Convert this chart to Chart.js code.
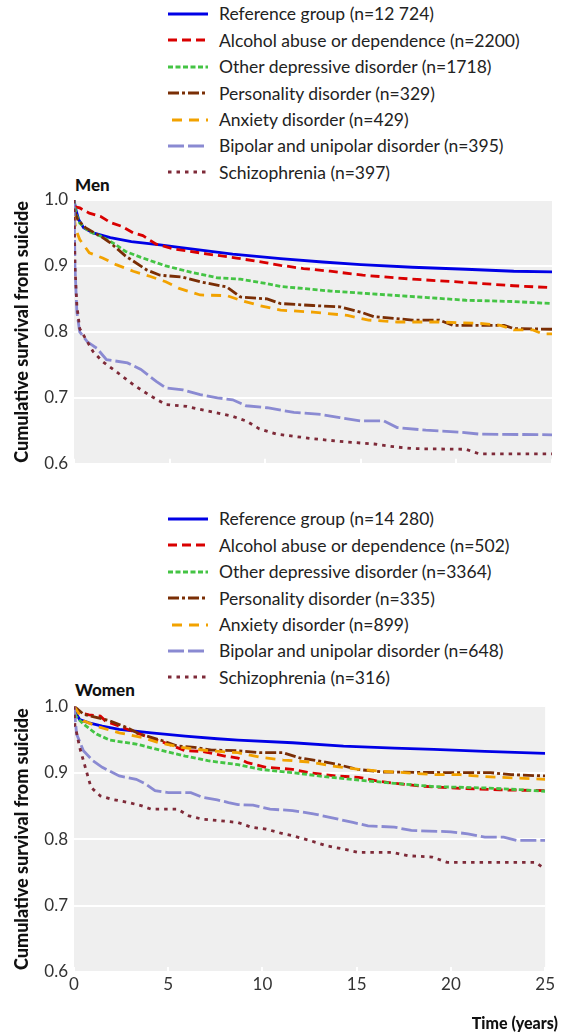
<!DOCTYPE html>
<html>
<head>
<meta charset="utf-8">
<script src="https://cdn.jsdelivr.net/npm/chart.js@4.4.1/dist/chart.umd.min.js"></script>
<style>
  html, body { margin: 0; padding: 0; background: #fff; }
  body { width: 562px; height: 1035px; position: relative; overflow: hidden; font-family: Lato, "Open Sans", sans-serif; color: #222; }
  .legend { position: absolute; left: 168px; }
  .row { height: 26.4px; display: flex; align-items: center; font-size: 17.5px; white-space: nowrap; }
  .row svg { width: 40px; height: 10px; margin-right: 11px; flex: none; }
  .panel-title { position: absolute; left: 75px; font-weight: 900; font-size: 17px; color: #111; line-height: 20px; }
  .axis-title { position: absolute; right: 4px; top: 1013px; font-weight: 900; font-size: 16px; color: #111; line-height: 20px; }
  canvas { position: absolute; left: 0; }
</style>
</head>
<body>
<div class="legend" id="legMen" style="top:0.8px"></div>
<div class="panel-title" style="top:175px">Men</div>
<canvas id="men" width="562" height="300" style="top:180px"></canvas>
<div class="legend" id="legWomen" style="top:505.8px"></div>
<div class="panel-title" style="top:680px">Women</div>
<canvas id="women" width="562" height="345" style="top:690px"></canvas>
<div class="axis-title" id="xTitle"></div>
<script>
// ---- data ----
const groupNames = ["Reference group", "Alcohol abuse or dependence", "Other depressive disorder",
  "Personality disorder", "Anxiety disorder", "Bipolar and unipolar disorder", "Schizophrenia"];
const menCounts = ["12 724", "2200", "1718", "329", "429", "395", "397"];
const womenCounts = ["14 280", "502", "3364", "335", "899", "648", "316"];
const xTicks = [0, 5, 10, 15, 20, 25];
const yTicks = [0.6, 0.7, 0.8, 0.9, 1.0];
const xAxisTitle = "Time (years)";
const yAxisTitle = "Cumulative survival from suicide";

// [time (years), cumulative survival]
const menReference = [[0,1.0],[0.1,0.985],[0.25,0.97],[0.5,0.958],[1,0.95],[1.9,0.943],[3,0.937],[4.5,0.932],[5.5,0.928],[8.3,0.918],[10.8,0.911],[13,0.906],[15,0.902],[17.7,0.898],[20.5,0.895],[23,0.892],[25,0.891]];
const menAlcohol = [[0,0.99],[0.3,0.988],[0.8,0.98],[1.4,0.975],[1.9,0.966],[2.5,0.96],[3.1,0.95],[3.6,0.946],[4.3,0.933],[5.2,0.926],[7,0.918],[8.5,0.912],[10,0.905],[10.8,0.901],[12,0.896],[13.4,0.892],[15.1,0.886],[17.7,0.88],[20.5,0.875],[23,0.87],[25,0.867]];
const menOther = [[0,1.0],[0.1,0.98],[0.3,0.965],[0.8,0.952],[1.5,0.944],[2.2,0.932],[2.7,0.922],[3.5,0.913],[4.8,0.9],[6.2,0.89],[7.5,0.882],[8.7,0.88],[10.1,0.873],[10.8,0.869],[13.4,0.862],[15.9,0.857],[18.5,0.852],[20.5,0.848],[23,0.846],[25,0.843]];
const menPersonality = [[0,0.985],[0.2,0.97],[0.6,0.958],[1.5,0.943],[1.9,0.935],[2.7,0.915],[3.8,0.894],[4.5,0.886],[5.7,0.883],[6.6,0.876],[8,0.868],[8.7,0.853],[10.1,0.85],[10.8,0.843],[12.5,0.84],[13.9,0.838],[15,0.83],[15.7,0.823],[17.7,0.818],[19.1,0.818],[19.8,0.81],[22.5,0.81],[23,0.805],[25,0.804]];
const menAnxiety = [[0,0.975],[0.1,0.955],[0.3,0.94],[0.8,0.92],[1.5,0.912],[2.2,0.902],[3.1,0.892],[4,0.884],[4.8,0.876],[5.5,0.866],[6.6,0.856],[8,0.855],[8.7,0.848],[9.7,0.84],[10.8,0.833],[12.5,0.83],[14.3,0.825],[15.4,0.818],[16.9,0.815],[19.1,0.815],[21.2,0.813],[22.3,0.81],[23,0.803],[24,0.803],[24.5,0.797],[25,0.797]];
const menBipolar = [[0,1.0],[0.05,0.9],[0.15,0.83],[0.3,0.8],[0.7,0.785],[1.2,0.775],[1.7,0.758],[2.8,0.753],[3.5,0.743],[4.3,0.725],[4.8,0.715],[5.7,0.712],[6.6,0.705],[7.5,0.7],[8.3,0.697],[9,0.688],[10.1,0.685],[11.5,0.678],[12.9,0.675],[13.9,0.67],[15,0.665],[16.2,0.665],[16.9,0.655],[18.4,0.651],[20.2,0.648],[21.2,0.645],[25,0.644]];
const menSchizophrenia = [[0,1.0],[0.05,0.9],[0.15,0.84],[0.3,0.805],[1,0.77],[1.5,0.755],[2.2,0.74],[3.1,0.72],[4,0.703],[4.8,0.69],[5.9,0.687],[7,0.68],[8.3,0.672],[9,0.665],[9.7,0.653],[10.6,0.645],[12.5,0.638],[14.3,0.633],[15.7,0.63],[16.7,0.626],[17.7,0.623],[20.5,0.622],[21.2,0.615],[25,0.615]];

const womenReference = [[0,1.0],[0.1,0.99],[0.3,0.98],[0.8,0.975],[1.5,0.97],[2.4,0.965],[4.1,0.96],[5.9,0.955],[7.6,0.951],[8.7,0.949],[11.6,0.945],[14.3,0.94],[17,0.937],[19.1,0.935],[21.8,0.932],[25,0.929]];
const womenAlcohol = [[0,1.0],[0.3,0.99],[0.8,0.987],[1.4,0.985],[1.7,0.977],[2.4,0.97],[3.3,0.96],[4.3,0.95],[5,0.943],[5.9,0.933],[6.8,0.932],[8,0.925],[8.7,0.922],[9.2,0.915],[10.2,0.908],[11.6,0.905],[12.5,0.9],[13.9,0.895],[15.1,0.893],[16,0.888],[17,0.884],[18.3,0.88],[20,0.877],[22.6,0.874],[25,0.873]];
const womenOther = [[0,1.0],[0.1,0.985],[0.5,0.973],[1.2,0.958],[1.9,0.949],[3.3,0.943],[4.7,0.933],[5.9,0.925],[7.1,0.918],[8.7,0.912],[9.9,0.905],[11.6,0.9],[13.3,0.894],[15.4,0.888],[17,0.884],[19.1,0.879],[21.8,0.877],[23.9,0.874],[25,0.872]];
const womenPersonality = [[0,1.0],[0.5,0.988],[1.9,0.978],[2.8,0.968],[3.5,0.958],[4.7,0.948],[5.5,0.94],[6.4,0.938],[7.3,0.934],[8.7,0.933],[9.9,0.93],[11.1,0.93],[12,0.922],[12.9,0.918],[13.9,0.913],[15,0.905],[16.4,0.901],[20,0.9],[22.1,0.9],[23.2,0.897],[25,0.895]];
const womenAnxiety = [[0,1.0],[0.5,0.978],[1.4,0.968],[2.4,0.96],[3.6,0.953],[4.5,0.945],[5.7,0.938],[7.1,0.933],[8.7,0.93],[9.9,0.923],[11.1,0.919],[12.5,0.916],[13.7,0.91],[15.1,0.905],[16.4,0.902],[19.1,0.897],[20.5,0.897],[21.8,0.894],[23.5,0.892],[25,0.89]];
const womenBipolar = [[0,1.0],[0.14,0.958],[0.5,0.933],[1,0.918],[1.5,0.908],[2.4,0.895],[3.3,0.89],[3.8,0.883],[4.3,0.873],[5,0.87],[6.2,0.87],[6.8,0.863],[7.6,0.859],[8.2,0.855],[8.7,0.852],[9.5,0.851],[10.4,0.845],[11.6,0.843],[12.7,0.838],[13.7,0.832],[14.8,0.825],[15.6,0.82],[17,0.818],[17.9,0.813],[20,0.811],[20.9,0.808],[21.8,0.803],[22.8,0.803],[23.5,0.798],[25,0.798]];
const womenSchizophrenia = [[0,1.0],[0.05,0.97],[0.14,0.96],[0.3,0.938],[0.6,0.908],[0.9,0.878],[1.4,0.865],[2,0.86],[2.9,0.855],[3.6,0.85],[4.1,0.845],[5.5,0.845],[6.1,0.835],[6.8,0.83],[7.6,0.828],[8.7,0.825],[9.4,0.818],[10.2,0.815],[11.1,0.808],[11.6,0.805],[12.5,0.798],[13.4,0.79],[14.3,0.785],[15.1,0.78],[16.9,0.78],[17.7,0.775],[19,0.773],[19.8,0.765],[24.5,0.765],[25,0.755]];

// ---- styles ----
const styles = [
  { color: "#0000e6", dash: [] },
  { color: "#d90000", dash: [9, 5] },
  { color: "#44c444", dash: [5, 2.5] },
  { color: "#7a2e05", dash: [11, 3, 3, 3] },
  { color: "#f2a200", dash: [10, 7] },
  { color: "#8a8ad2", dash: [16, 4] },
  { color: "#7e2a38", dash: [3.5, 5] }
];

document.getElementById("xTitle").textContent = xAxisTitle;

function buildLegend(id, counts) {
  const el = document.getElementById(id);
  groupNames.forEach((name, i) => {
    const s = styles[i];
    const row = document.createElement("div");
    row.className = "row";
    const offset = i === 4 ? -4 : 0;
    row.innerHTML = '<svg viewBox="0 0 40 10"><line x1="0" y1="5" x2="40" y2="5" stroke="' + s.color +
      '" stroke-width="3" stroke-dasharray="' + (s.dash.length ? s.dash.join(" ") : "none") +
      '" stroke-dashoffset="' + offset + '"/></svg><span>' + name + " (n=" + counts[i] + ")</span>";
    el.appendChild(row);
  });
}
buildLegend("legMen", menCounts);
buildLegend("legWomen", womenCounts);

const panelBg = {
  id: "panelBg",
  beforeDraw(chart) {
    const { ctx, chartArea: a } = chart;
    ctx.save();
    ctx.fillStyle = "#efefef";
    ctx.fillRect(a.left, a.top, a.right - a.left, a.bottom - a.top);
    ctx.restore();
  }
};

function makeChart(id, series, opts) {
  const datasets = series.map((pts, i) => ({
    label: groupNames[i],
    data: pts.map(p => ({ x: p[0], y: p[1] })),
    borderColor: styles[i].color,
    backgroundColor: styles[i].color,
    borderDash: styles[i].dash,
    borderWidth: 2.8,
    pointRadius: 0,
    tension: 0,
    fill: false
  })).reverse();
  return new Chart(document.getElementById(id), {
    type: "line",
    data: { datasets },
    plugins: [panelBg],
    options: {
      responsive: false,
      animation: false,
      layout: { padding: { top: opts.padTop, right: 10, left: 0, bottom: 0 } },
      plugins: { legend: { display: false }, tooltip: { enabled: false } },
      scales: {
        x: {
          type: "linear", min: 0, max: 25,
          afterBuildTicks: s => { s.ticks = xTicks.map(v => ({ value: v })); },
          border: { display: false },
          grid: { drawOnChartArea: false, drawTicks: true, tickLength: -5, color: "#ffffff", lineWidth: 2 },
          ticks: { display: opts.showX, padding: 7, color: "#333", font: { family: "Lato", size: 17 } },
          afterFit: s => { s.height = opts.xHeight; }
        },
        y: {
          type: "linear", min: 0.6, max: 1.0,
          afterBuildTicks: s => { s.ticks = yTicks.map(v => ({ value: v })); },
          border: { display: false },
          grid: { color: "#ffffff", lineWidth: 2, drawTicks: false },
          ticks: { padding: 6, color: "#333", font: { family: "Lato", size: 17 },
                   callback: v => Number(v).toFixed(1) },
          title: { display: true, text: yAxisTitle, color: "#111",
                   font: { family: "Lato", size: 18, weight: "900" }, padding: { top: 11, bottom: 0 } },
          afterFit: s => { s.width = 74; }
        }
      }
    }
  });
}

makeChart("men", [menReference, menAlcohol, menOther, menPersonality, menAnxiety, menBipolar, menSchizophrenia],
  { padTop: 20, xHeight: 12.5, showX: false });
makeChart("women", [womenReference, womenAlcohol, womenOther, womenPersonality, womenAnxiety, womenBipolar, womenSchizophrenia],
  { padTop: 15, xHeight: 63, showX: true });
</script>
</body>
</html>
